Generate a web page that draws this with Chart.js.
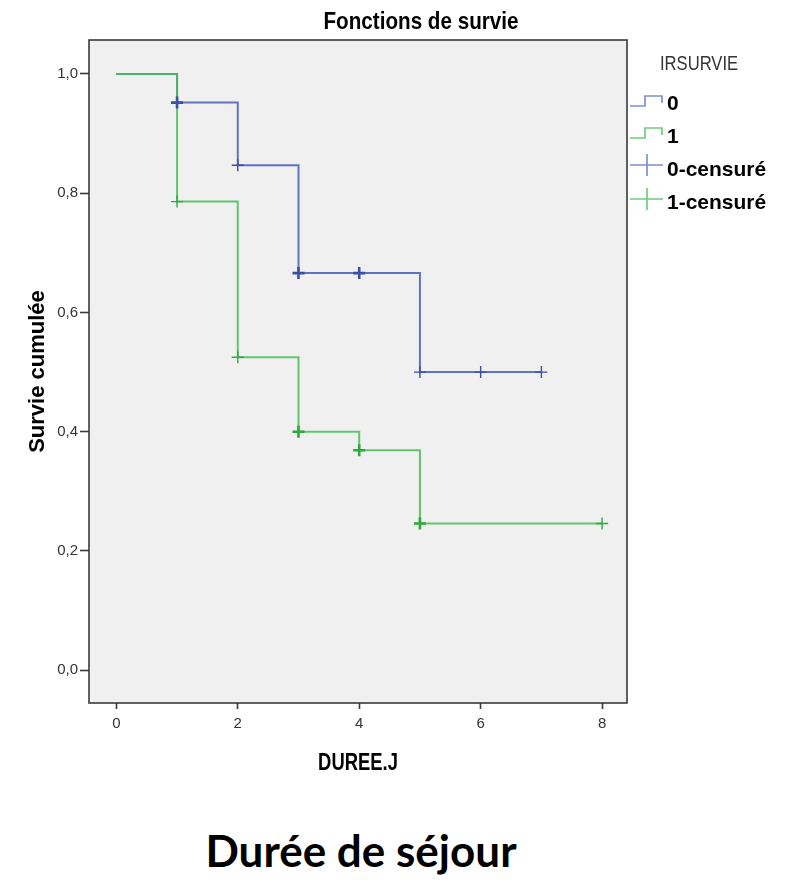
<!DOCTYPE html>
<html><head><meta charset="utf-8">
<script src="https://cdn.jsdelivr.net/npm/chart.js@4.4.0/dist/chart.umd.min.js"></script>
<style>
html,body{margin:0;padding:0;background:#fff;}
#wrap{position:relative;width:795px;height:883px;overflow:hidden;background:#fff;}
#c{position:absolute;left:0;top:0;}
#caption{position:absolute;left:0;width:722px;top:828px;text-align:center;font-family:Lato,'Open Sans',sans-serif;font-weight:700;font-size:44px;line-height:44px;color:#000;}
</style></head><body>
<div id="wrap"><canvas id="c" width="795" height="800"></canvas><div id="caption">Durée de séjour</div></div>
<script>
// ---- data ----
const chartTitle = 'Fonctions de survie';
const xAxisTitle = 'DUREE.J';
const yAxisTitle = 'Survie cumulée';
const legendTitle = 'IRSURVIE';
const seriesNames = ['0', '1'];
const censorNames = ['0-censuré', '1-censuré'];
const xTicks = [0, 2, 4, 6, 8];
const yTicks = [0, 0.2, 0.4, 0.6, 0.8, 1.0];
const yTickLabels = ['0,0', '0,2', '0,4', '0,6', '0,8', '1,0'];
const time0 = [0, 1, 2, 3, 5, 7];
const surv0 = [1, 0.952, 0.847, 0.666, 0.5, 0.5];
const cens0Time = [1, 2, 3, 4, 5, 6, 7];
const cens0Surv = [0.952, 0.847, 0.666, 0.666, 0.5, 0.5, 0.5];
const cens0Count = [2, 1, 2, 2, 1, 1, 1];
const time1 = [0, 1, 2, 3, 4, 5, 8];
const surv1 = [1, 0.786, 0.525, 0.4, 0.369, 0.246, 0.246];
const cens1Time = [1, 2, 3, 4, 5, 8];
const cens1Surv = [0.786, 0.525, 0.4, 0.369, 0.246, 0.246];
const cens1Count = [1, 1, 2, 2, 2, 1];

// ---- style ----
const SANS = '"Liberation Sans", Arial, sans-serif';
const BLUE = 'rgba(72,92,185,0.85)';
const BLUE_DARK = '#3a4fa8';
const BLUE_LEG = '#7f8fd2';
const GREEN = 'rgba(70,190,85,0.85)';
const GREEN_DARK = '#2daa3e';
const GREEN_LEG = '#6fcd7b';
const FRAME = '#3a3a3a';

const pts = (xs, ys) => xs.map((x, i) => ({x: x, y: ys[i]}));

function squishText(ctx, text, x, y, sx) {
  ctx.save();
  ctx.translate(x, y);
  ctx.scale(sx, 1);
  ctx.fillText(text, 0, 0);
  ctx.restore();
}

const decorPlugin = {
  id: 'decor',
  beforeDraw(chart) {
    const {ctx, chartArea: a} = chart;
    ctx.save();
    ctx.fillStyle = '#ffffff';
    ctx.fillRect(0, 0, chart.width, chart.height);
    ctx.fillStyle = '#f0f0f0';
    ctx.fillRect(a.left, a.top, a.right - a.left, a.bottom - a.top);
    ctx.restore();
  },
  afterDraw(chart) {
    const {ctx, chartArea: a} = chart;
    ctx.save();
    // frame
    ctx.strokeStyle = FRAME;
    ctx.lineWidth = 1.6;
    ctx.strokeRect(a.left, a.top, a.right - a.left, a.bottom - a.top);
    // chart title
    ctx.fillStyle = '#000';
    ctx.font = 'bold 24px ' + SANS;
    ctx.textAlign = 'center';
    ctx.textBaseline = 'alphabetic';
    squishText(ctx, chartTitle, 421, 29, 0.86);
    // x axis title
    ctx.font = 'bold 23px ' + SANS;
    squishText(ctx, xAxisTitle, (a.left + a.right) / 2, 770, 0.8);
    // legend
    const L = a.right;
    ctx.textAlign = 'left';
    ctx.fillStyle = '#333';
    ctx.font = '20px ' + SANS;
    squishText(ctx, legendTitle, L + 33, 70, 0.83);
    ctx.lineWidth = 1.7;
    const stepIcon = (color, yLow, yHigh, yEnd) => {
      ctx.strokeStyle = color;
      ctx.beginPath();
      ctx.moveTo(L + 3, yLow);
      ctx.lineTo(L + 18, yLow);
      ctx.lineTo(L + 18, yHigh);
      ctx.lineTo(L + 35, yHigh);
      ctx.lineTo(L + 35, yEnd);
      ctx.stroke();
    };
    const crossIcon = (color, y) => {
      ctx.strokeStyle = color;
      ctx.beginPath();
      ctx.moveTo(L + 3, y);
      ctx.lineTo(L + 36, y);
      ctx.moveTo(L + 20, y - 11);
      ctx.lineTo(L + 20, y + 11);
      ctx.stroke();
    };
    stepIcon(BLUE_LEG, 106, 96, 103);
    stepIcon(GREEN_LEG, 138, 128, 135);
    crossIcon(BLUE_LEG, 165);
    crossIcon(GREEN_LEG, 199);
    ctx.fillStyle = '#000';
    ctx.font = 'bold 21px ' + SANS;
    ctx.textBaseline = 'middle';
    ctx.fillText(seriesNames[0], L + 40, 104);
    ctx.fillText(seriesNames[1], L + 40, 137);
    ctx.fillText(censorNames[0], L + 40, 170);
    ctx.fillText(censorNames[1], L + 40, 203);
    ctx.restore();
  }
};

new Chart(document.getElementById('c'), {
  type: 'line',
  data: {
    datasets: [
      {label: censorNames[0], data: pts(cens0Time, cens0Surv), showLine: false,
       pointStyle: 'cross', pointRadius: 6, pointBorderColor: BLUE_DARK,
       pointBorderWidth: cens0Count.map(n => n > 1 ? 2.6 : 1.4), order: 1},
      {label: censorNames[1], data: pts(cens1Time, cens1Surv), showLine: false,
       pointStyle: 'cross', pointRadius: 6, pointBorderColor: GREEN_DARK,
       pointBorderWidth: cens1Count.map(n => n > 1 ? 2.6 : 1.4), order: 0},
      {label: seriesNames[0], data: pts(time0, surv0), stepped: true, borderColor: BLUE,
       borderWidth: 2, pointRadius: 0, fill: false, order: 3},
      {label: seriesNames[1], data: pts(time1, surv1), stepped: true, borderColor: GREEN,
       borderWidth: 2, pointRadius: 0, fill: false, order: 2}
    ]
  },
  options: {
    responsive: false,
    animation: false,
    events: [],
    layout: {padding: {top: 40, right: 168, left: 0, bottom: 0}},
    plugins: {legend: {display: false}, tooltip: {enabled: false}, title: {display: false}},
    scales: {
      x: {
        type: 'linear', min: -0.45, max: 8.41,
        afterBuildTicks: s => { s.ticks = xTicks.map(v => ({value: v})); },
        afterFit: s => { s.height = 97; },
        border: {display: false},
        grid: {drawOnChartArea: false, drawTicks: true, tickLength: 6, tickColor: FRAME, tickWidth: 1.6},
        ticks: {color: '#333', padding: 6, font: {family: SANS, size: 15}, maxRotation: 0,
                callback: v => String(v)},
        title: {display: false}
      },
      y: {
        type: 'linear', min: -0.055, max: 1.057,
        afterBuildTicks: s => { s.ticks = yTicks.map(v => ({value: v})); },
        afterFit: s => { s.width = 89; },
        border: {display: false},
        grid: {drawOnChartArea: false, drawTicks: true, tickLength: 9, tickColor: FRAME, tickWidth: 1.6},
        ticks: {color: '#333', padding: 2, font: {family: SANS, size: 15},
                callback: v => { const i = yTicks.indexOf(v); return i >= 0 ? yTickLabels[i] : ''; }},
        title: {display: true, text: yAxisTitle, color: '#000',
                font: {family: SANS, size: 22, weight: 'bold'}, padding: {top: 25, bottom: 0}}
      }
    }
  },
  plugins: [decorPlugin]
});
</script>
</body></html>
